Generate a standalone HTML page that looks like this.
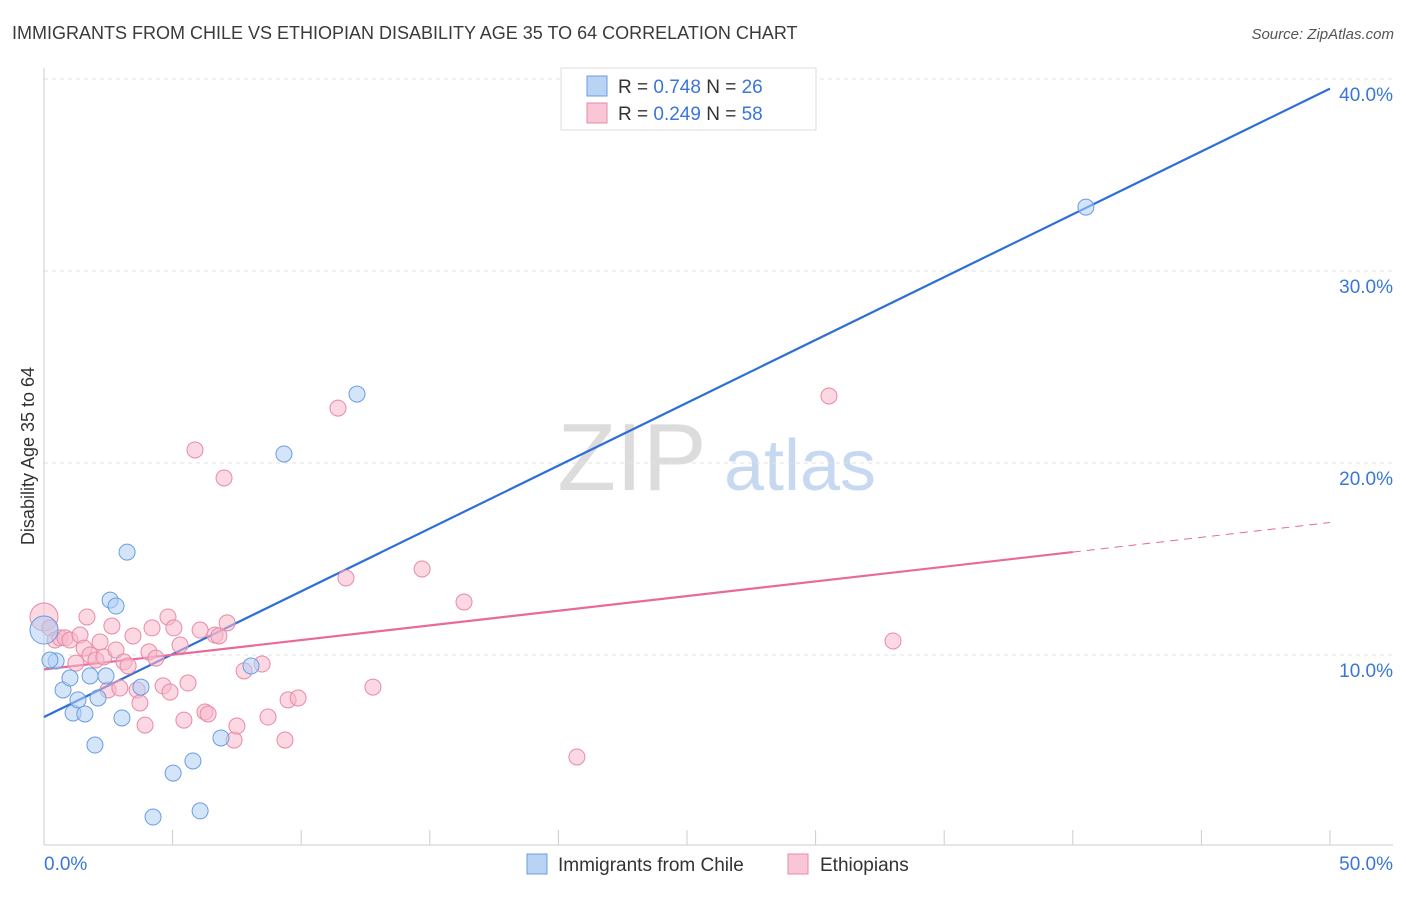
<!DOCTYPE html>
<html><head><meta charset="utf-8">
<style>
body{margin:0;background:#fff;font-family:"Liberation Sans",sans-serif;}
svg text{font-family:"Liberation Sans",sans-serif;}
</style></head>
<body>
<svg id="chart" width="1406" height="892" viewBox="0 0 1406 892" xmlns="http://www.w3.org/2000/svg">
<text x="12" y="39" font-size="18" fill="#3a3a3a">IMMIGRANTS FROM CHILE VS ETHIOPIAN DISABILITY AGE 35 TO 64 CORRELATION CHART</text>
<text x="1394" y="39" font-size="15" fill="#555" font-style="italic" text-anchor="end">Source: ZipAtlas.com</text>
<g>
<text x="632" y="490" font-size="96" fill="#dcdcdc" font-family="Liberation Serif" text-anchor="middle">ZIP</text>
<text x="800" y="490" font-size="72" fill="#c7d9f0" text-anchor="middle">atlas</text>
</g>
<g id="grid"></g>
<g id="axes"></g>
<g id="lines"></g>
<g id="points"></g>
<text transform="translate(34,456) rotate(-90)" font-size="18" fill="#333" text-anchor="middle">Disability Age 35 to 64</text>
<g>
<rect x="561" y="68" width="255" height="62" fill="#fff" stroke="#ddd"/>
<rect x="587" y="76" width="20" height="20" fill="#b9d3f5" stroke="#6a9de0"/>
<text x="618" y="93" font-size="19" fill="#333">R = <tspan fill="#3a76d8">0.748</tspan>   N = <tspan fill="#3a76d8">26</tspan></text>
<rect x="587" y="103" width="20" height="20" fill="#f9c6d5" stroke="#e88aa8"/>
<text x="618" y="120" font-size="19" fill="#333">R = <tspan fill="#3a76d8">0.249</tspan>   N = <tspan fill="#3a76d8">58</tspan></text>
</g>
<g>
<rect x="527" y="854" width="20" height="20" fill="#b9d3f5" stroke="#6a9de0"/>
<text x="558" y="871" font-size="19" fill="#333">Immigrants from Chile</text>
<rect x="788" y="854" width="20" height="20" fill="#f9c6d5" stroke="#e88aa8"/>
<text x="820" y="871" font-size="19" fill="#333">Ethiopians</text>
</g>
</svg>
<script>
const yTicks=[10,20,30,40];
const yTickLabels=["10.0%","20.0%","30.0%","40.0%"];
const xTickLabels=["0.0%","50.0%"];
const chileX=[0,0.47,0.74,1.01,1.13,1.32,1.59,1.79,1.98,2.1,2.41,2.57,2.8,3.03,3.23,3.77,4.24,5.02,5.79,6.07,6.88,8.05,9.33,12.17,40.51,0.23];
const chileY=[11.3,9.69,8.18,8.8,6.98,7.66,6.93,8.91,5.31,7.76,8.91,12.86,12.55,6.72,15.36,8.33,1.56,3.85,4.48,1.88,5.68,9.43,20.47,23.59,33.33,9.74];
const ethX=[0,0.23,0.43,0.62,0.82,1.01,1.24,1.4,1.56,1.67,1.79,2.02,2.18,2.33,2.49,2.64,2.8,2.95,3.11,3.27,3.46,3.62,3.73,3.93,4.08,4.2,4.35,4.63,4.82,4.9,5.05,5.29,5.44,5.6,5.87,6.07,6.26,6.38,6.65,6.8,7.0,7.12,7.39,7.5,7.78,8.48,8.71,9.37,9.49,9.88,11.43,11.74,12.79,14.7,16.33,20.72,30.52,33.01];
const ethY=[11.98,11.41,10.78,10.89,10.89,10.78,9.58,11.04,10.36,11.98,10.0,9.74,10.68,9.9,8.18,11.51,10.26,8.28,9.64,9.43,10.99,8.18,7.5,6.35,10.16,11.41,9.84,8.39,11.98,8.07,11.41,10.52,6.61,8.54,20.68,11.3,7.03,6.93,11.04,10.99,19.22,11.67,5.57,6.3,9.17,9.53,6.77,5.57,7.66,7.76,22.86,14.01,8.33,14.48,12.76,4.69,23.49,10.73];
const chileTrend=[6.77,39.5];
const ethTrend=[9.25,15.36,16.9];
const ethTrendEndX=40;
const NS="http://www.w3.org/2000/svg";
const sx=v=>44+v*25.72;
const sy=v=>847-v*19.2;
function mk(tag,attrs,parent){const e=document.createElementNS(NS,tag);for(const k in attrs)e.setAttribute(k,attrs[k]);document.getElementById(parent).appendChild(e);return e;}
yTicks.forEach((t,i)=>{
 const g=mk('line',{x1:44,x2:1393,y1:sy(t),y2:sy(t),stroke:'#e2e2e2','stroke-dasharray':'4,4'},'grid');
 
 
 const l=mk('text',{x:1393,y:sy(t)+22,'font-size':19,fill:'#3a76d8','text-anchor':'end'},'axes');
 l.textContent=yTickLabels[i];
 
 
});
const ya=mk('line',{x1:44,x2:44,y1:68,y2:845,stroke:'#ccc'},'axes');


const xa=mk('line',{x1:44,x2:1393,y1:845,y2:845,stroke:'#ccc'},'axes');


for(let i=0;i<=10;i++){
 const t=mk('line',{x1:sx(i*5),x2:sx(i*5),y1:830,y2:845,stroke:'#ccc'},'axes');
 
 
}
[[0,'start'],[50,'end']].forEach((p,i)=>{
 const l=mk('text',{x:i?1393:44,y:870,'font-size':19,fill:'#3a76d8','text-anchor':p[1]},'axes');
 l.textContent=xTickLabels[i];
 
 
});
function pts(xs,ys,fill,stroke,name){
 xs.forEach((x,i)=>{
  const r=(i===0)?14:8;
  const c=mk('circle',{cx:sx(x),cy:sy(ys[i]),r:r,fill:fill,'fill-opacity':0.55,stroke:stroke,'stroke-width':1},'points');
  
  
 });
}
pts(ethX,ethY,'#f7b8ca','#e88aa8','point-ethiopians');
pts(chileX,chileY,'#b0cff5','#6a9de0','point-chile');
const bl=mk('line',{x1:sx(0),y1:sy(chileTrend[0]),x2:sx(50),y2:sy(chileTrend[1]),stroke:'#2d6fd6','stroke-width':2.2},'lines');


const pl=mk('line',{x1:sx(0),y1:sy(ethTrend[0]),x2:sx(ethTrendEndX),y2:sy(ethTrend[1]),stroke:'#e8699a','stroke-width':2.2},'lines');


const pd=mk('line',{x1:sx(ethTrendEndX),y1:sy(ethTrend[1]),x2:sx(50),y2:sy(ethTrend[2]),stroke:'#e8699a','stroke-width':1,'stroke-dasharray':'8,6'},'lines');


</script>
</body></html>
